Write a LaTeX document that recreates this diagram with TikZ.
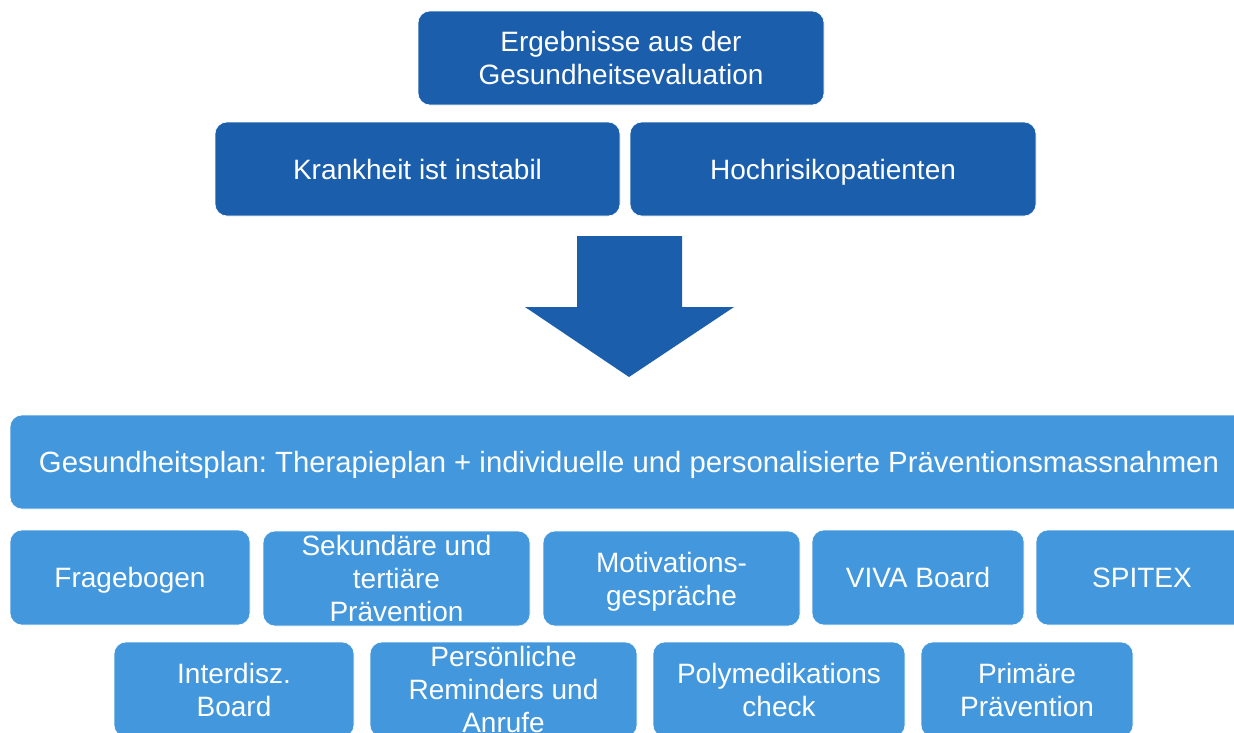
\documentclass[tikz,border=0pt]{standalone}
\usepackage{fontspec}
\setmainfont{Liberation Sans}
\definecolor{darkblue}{HTML}{1B5EAB}
\definecolor{lightblue}{HTML}{4397DC}
\begin{document}
\begin{tikzpicture}[x=1pt,y=-1pt,
  box/.style={rounded corners=12pt, inner sep=0pt, text=white, align=center,
    font=\fontsize{28}{33}\selectfont\frenchspacing, text depth=0pt, draw=white, line width=0.6pt},
  darkbox/.style={box, fill=darkblue},
  lightbox/.style={box, fill=lightblue},
  bigarrow/.style={fill=darkblue}]
\useasboundingbox (0,0) rectangle (1234,732);
\clip (0,0) rectangle (1234,732);
% top boxes
\node[darkbox, minimum width=406pt, minimum height=94pt] (erg) at (621,58) {Ergebnisse aus der\\Gesundheitsevaluation};
\node[darkbox, minimum width=405pt, minimum height=94pt] (krank) at (417.5,169) {Krankheit ist instabil};
\node[darkbox, minimum width=406pt, minimum height=94pt] (hoch) at (833,169) {Hochrisikopatienten};
% block arrow
\fill[bigarrow] (577,236) -- (682,236) -- (682,307) -- (734,307) -- (629,377) -- (525,307) -- (577,307) -- cycle;
% health plan
\node[lightbox, minimum width=1238pt, minimum height=94pt, font=\fontsize{29.3}{34}\selectfont\frenchspacing] (plan) at (629,462) {Gesundheitsplan: Therapieplan + individuelle und personalisierte Präventionsmassnahmen};
% row 1
\node[lightbox, minimum width=240pt, minimum height=95pt] (frage) at (130,577.5) {Fragebogen};
\node[lightbox, minimum width=267pt, minimum height=95pt] (sek) at (396.5,578.5) {Sekundäre und\\tertiäre\\Prävention};
\node[lightbox, minimum width=257pt, minimum height=95pt] (moti) at (671.5,578.5) {Motivations-\\gespräche};
\node[lightbox, minimum width=212pt, minimum height=95pt] (viva) at (918,577.5) {VIVA Board};
\node[lightbox, minimum width=212pt, minimum height=95pt] (spitex) at (1142,577.5) {SPITEX};
% row 2
\node[lightbox, minimum width=240pt, minimum height=95pt] (inter) at (234,689.5) {Interdisz.\\Board};
\node[lightbox, minimum width=267pt, minimum height=95pt] (pers) at (503.5,689.5) {Persönliche\\Reminders und\\Anrufe};
\node[lightbox, minimum width=252pt, minimum height=95pt] (poly) at (779,689.5) {Polymedikations\\check};
\node[lightbox, minimum width=212pt, minimum height=95pt] (prim) at (1027,689.5) {Primäre\\Prävention};
\end{tikzpicture}
\end{document}
